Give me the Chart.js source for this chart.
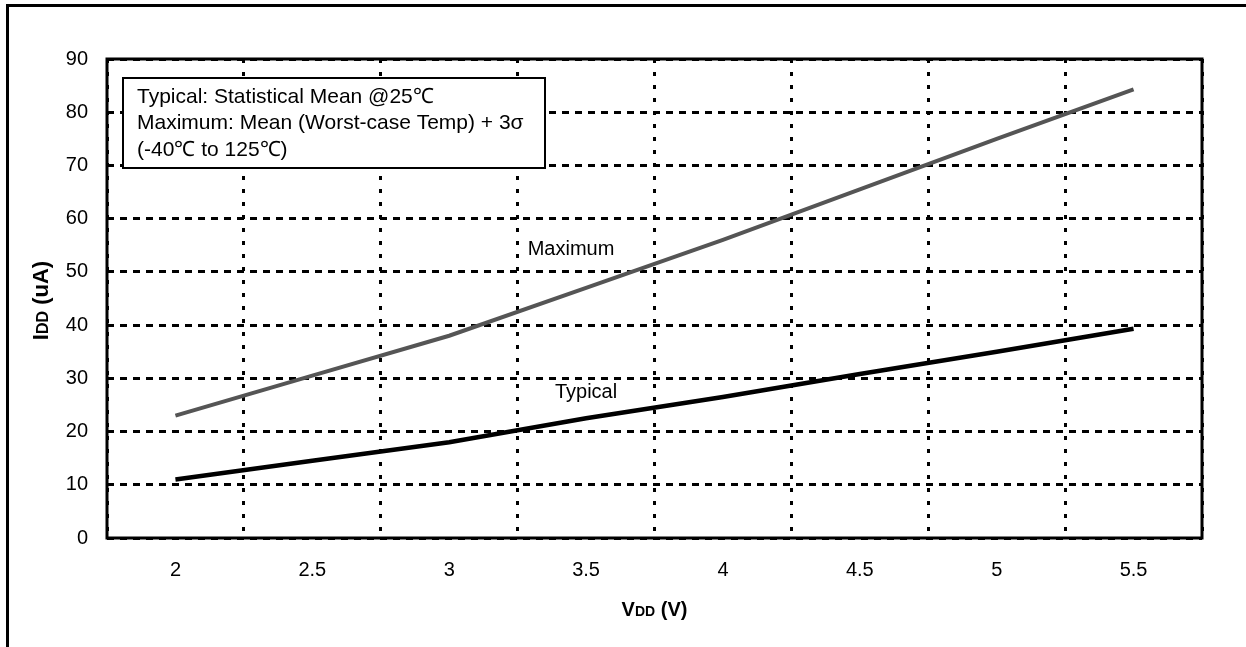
<!DOCTYPE html>
<html>
<head>
<meta charset="utf-8">
<script src="https://cdn.jsdelivr.net/npm/chart.js@4.4.0/dist/chart.umd.min.js"></script>
<style>
  html, body { margin: 0; padding: 0; background: #fff; }
  #wrap { position: relative; width: 1246px; height: 647px; overflow: hidden; }
  #frame { position: absolute; left: 6px; top: 4px; right: -10px; bottom: -10px;
           border-top: 3px solid #000; border-left: 3px solid #000; }
  canvas { position: absolute; left: 0; top: 0; }
</style>
</head>
<body>
<div id="wrap">
  <div id="frame"></div>
  <canvas id="chart" width="1246" height="647"></canvas>
</div>
<script>
const FONT = '"Liberation Sans", Arial, sans-serif';

// VDD (V) categories
const vddLabels = ['2', '2.5', '3', '3.5', '4', '4.5', '5', '5.5'];
// IDD (uA)
const maximumIdd = [23, 30.5, 38, 47, 56, 65.5, 75, 84.3];
const typicalIdd = [11, 14.5, 18, 22.5, 26.5, 30.8, 35, 39.3];
// y axis
const yMin = 0;
const yMax = 90;
const yStep = 10;

const noteLines = [
  'Typical: Statistical Mean @25\u2103',
  'Maximum: Mean (Worst-case Temp) + 3\u03c3',
  '(-40\u2103 to 125\u2103)'
];

// draws text made of parts with different sizes (for the DD subscripts)
function drawMixed(ctx, parts, cx, cy, rotate) {
  ctx.save();
  ctx.translate(cx, cy);
  if (rotate) ctx.rotate(-Math.PI / 2);
  ctx.textAlign = 'left';
  ctx.textBaseline = 'alphabetic';
  ctx.fillStyle = '#000';
  let total = 0;
  parts.forEach(p => {
    ctx.font = 'bold ' + p[1] + 'px ' + FONT;
    total += ctx.measureText(p[0]).width;
  });
  let px = -total / 2;
  parts.forEach(p => {
    ctx.font = 'bold ' + p[1] + 'px ' + FONT;
    ctx.fillText(p[0], px, 7);
    px += ctx.measureText(p[0]).width;
  });
  ctx.restore();
}

const decorations = {
  id: 'decorations',
  afterDatasetsDraw(chart) {
    const {ctx, chartArea: a, scales: {x, y}} = chart;
    ctx.save();

    // plot frame
    ctx.strokeStyle = '#000';
    ctx.lineWidth = 3;
    ctx.strokeRect(a.left, a.top, a.right - a.left, a.bottom - a.top);

    // note box
    const bx = a.left + 16, by = a.top + 19, bw = 422, bh = 90;
    ctx.fillStyle = '#fff';
    ctx.fillRect(bx, by, bw, bh);
    ctx.lineWidth = 2;
    ctx.strokeRect(bx, by, bw, bh);
    ctx.fillStyle = '#000';
    ctx.font = '21px ' + FONT;
    ctx.textAlign = 'left';
    ctx.textBaseline = 'middle';
    noteLines.forEach((t, i) => ctx.fillText(t, bx + 14, by + 19 + i * 26.5));

    // series labels
    ctx.textAlign = 'center';
    ctx.font = '20px ' + FONT;
    ctx.fillText('Maximum', x.getPixelForValue(2.89), y.getPixelForValue(54.3));
    ctx.fillText('Typical', x.getPixelForValue(3.0), y.getPixelForValue(27.4));

    ctx.restore();

    // axis titles
    drawMixed(ctx, [['V', 20], ['DD', 14], [' (V)', 20]], (a.left + a.right) / 2, 609, false);
    drawMixed(ctx, [['I', 22], ['DD', 16], [' (uA)', 22]], 41, (a.top + a.bottom) / 2 + 2, true);
  }
};

new Chart(document.getElementById('chart'), {
  type: 'line',
  data: {
    labels: vddLabels,
    datasets: [
      {
        label: 'Maximum',
        data: maximumIdd,
        borderColor: '#555555',
        borderWidth: 4,
        pointRadius: 0,
        tension: 0
      },
      {
        label: 'Typical',
        data: typicalIdd,
        borderColor: '#000000',
        borderWidth: 4.5,
        pointRadius: 0,
        tension: 0
      }
    ]
  },
  options: {
    responsive: false,
    animation: false,
    devicePixelRatio: 1,
    layout: { padding: { left: 7, top: 59, right: 44, bottom: 0 } },
    plugins: { legend: { display: false }, tooltip: { enabled: false } },
    scales: {
      x: {
        offset: true,
        grid: { offset: true, color: '#000', lineWidth: 3, drawTicks: false },
        border: { display: false, dash: [4, 9] },
        ticks: { color: '#000', font: { size: 20, family: FONT }, padding: 20, maxRotation: 0 },
        afterFit(s) { s.height = 109; }
      },
      y: {
        min: yMin,
        max: yMax,
        grid: { color: '#000', lineWidth: 3, drawTicks: false },
        border: { display: false, dash: [7, 6] },
        ticks: { stepSize: yStep, color: '#000', font: { size: 20, family: FONT }, padding: 19 },
        afterFit(s) { s.width = 100; }
      }
    }
  },
  plugins: [decorations]
});
</script>
</body>
</html>
